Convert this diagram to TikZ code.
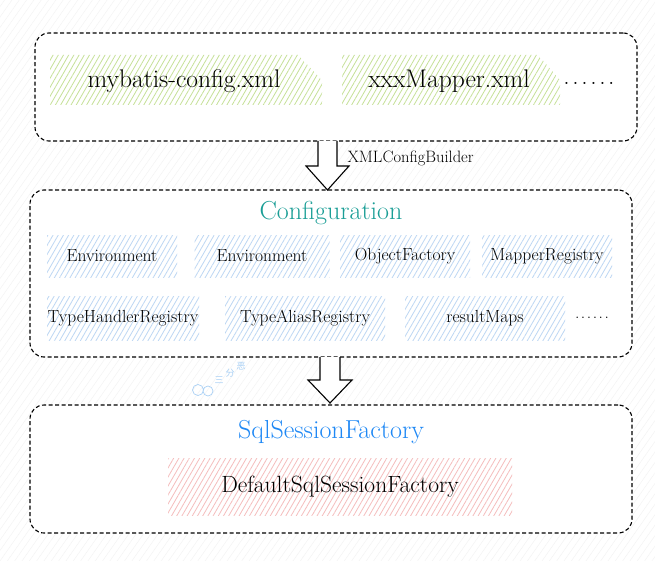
\documentclass[tikz,border=0pt]{standalone}
\usepackage{fontspec}
\usetikzlibrary{patterns.meta,calc}
\newfontfamily\cjk{Noto Sans CJK SC}
\definecolor{hgreen}{HTML}{C6E198}
\definecolor{hblue}{HTML}{BDD7F3}
\definecolor{hred}{HTML}{F5BDBD}
\definecolor{tealt}{HTML}{1A9E96}
\definecolor{bluet}{HTML}{1E88F5}
\definecolor{wmark}{HTML}{A9D0F5}
\newcommand{\fs}[1]{\fontsize{#1}{#1}\selectfont}
\newcommand{\sixdots}[1]{.\hspace{#1}.\hspace{#1}.\hspace{#1}.\hspace{#1}.\hspace{#1}.}
\tikzset{
  cont/.style={draw, line width=1.1pt, dash pattern=on 4pt off 2.5pt, rounded corners=14pt, inner sep=0pt},
  hatchg/.style={pattern={Lines[angle=60,distance=4.5pt,line width=0.8pt]}, pattern color=hgreen},
  hatchb/.style={pattern={Lines[angle=60,distance=4.5pt,line width=0.8pt]}, pattern color=hblue, inner sep=0pt},
  hatchr/.style={pattern={Lines[angle=60,distance=4.5pt,line width=0.8pt]}, pattern color=hred, inner sep=0pt},
  bigtxt/.style={font=\fs{25.5}},
  smalltxt/.style={font=\fs{17.5}},
  blockarrow/.style={draw, line width=1.1pt, fill=white, line join=miter},
  wm/.style={text=wmark, font=\cjk\fs{9}, inner sep=0pt},
}
\begin{document}
\begin{tikzpicture}[x=1pt,y=-1pt]
\useasboundingbox (0,0) rectangle (655,561);
\fill[white] (0,0) rectangle (655,561);
\fill[pattern={Lines[angle=55,distance=6pt,line width=0.4pt]}, pattern color=black!5] (0,0) rectangle (655,561);

% containers
\node[cont, fill=white, minimum width=602pt, minimum height=108pt] (top) at (336,87) {};
\node[cont, fill=white, minimum width=602pt, minimum height=167pt] (conf) at (331,273.5) {};
\node[cont, fill=white, minimum width=602pt, minimum height=128pt] (ssf) at (331,469) {};

% top box contents
\fill[hatchg] (50,55) -- (298,55) -- (322,80) -- (322,105) -- (50,105) -- cycle;
\node[bigtxt] (cfgxml) at (184,81) {mybatis-config.xml};
\fill[hatchg] (342,55) -- (538,55) -- (560,80) -- (560,105) -- (342,105) -- cycle;
\node[bigtxt] (mapxml) at (449,81) {xxxMapper.xml};
\node[bigtxt] (dots1) at (589,83) {\sixdots{2.6pt}};

% arrow 1
\draw[blockarrow] (318,141) -- (318,166) -- (306,166) -- (327.5,190) -- (349,166) -- (337,166) -- (337,141);
\node[font=\fs{16.5}, anchor=west] (xmlb) at (344,158) {XMLConfigBuilder};

% configuration
\node[font=\fs{26}, text=tealt] (conft) at (331,213) {Configuration};
\node[hatchb, minimum width=130pt, minimum height=42pt] (env1) at (112,256) {};
\node[smalltxt] at (env1) {Environment};
\node[hatchb, minimum width=135pt, minimum height=42pt] (env2) at (262,256) {};
\node[smalltxt] at (env2) {Environment};
\node[hatchb, minimum width=130pt, minimum height=42pt] (objf) at (405,256) {};
\node[smalltxt] at (objf) {ObjectFactory};
\node[hatchb, minimum width=130pt, minimum height=42pt] (mapr) at (547,256) {};
\node[smalltxt] at (mapr) {MapperRegistry};
\node[hatchb, minimum width=152pt, minimum height=44pt] (thr) at (123,318) {};
\node[smalltxt] at (thr) {TypeHandlerRegistry};
\node[hatchb, minimum width=160pt, minimum height=44pt] (tar) at (305,318) {};
\node[smalltxt] at (tar) {TypeAliasRegistry};
\node[hatchb, minimum width=160pt, minimum height=44pt] (rmap) at (485,318) {};
\node[smalltxt] at (rmap) {resultMaps};
\node[smalltxt] (dots2) at (592,318) {\sixdots{1.5pt}};

% arrow 2
\draw[blockarrow] (320,357) -- (320,380) -- (308,380) -- (330,403) -- (352,380) -- (340,380) -- (340,357);

% watermark
\draw[wmark, line width=0.7pt] (198,390) circle (5.5pt) (208,391) circle (5pt);
\node[wm] (wm1) at (219,380) {三};
\node[wm] (wm2) at (230,373) {分};
\node[wm] (wm3) at (241,366) {恶};

% sqlsessionfactory
\node[font=\fs{26}, text=bluet] (ssft) at (331,432) {SqlSessionFactory};
\node[hatchr, minimum width=344pt, minimum height=57pt] (dssf) at (340,486.5) {};
\node[font=\fs{23.5}] at (dssf) {DefaultSqlSessionFactory};
\end{tikzpicture}
\end{document}
